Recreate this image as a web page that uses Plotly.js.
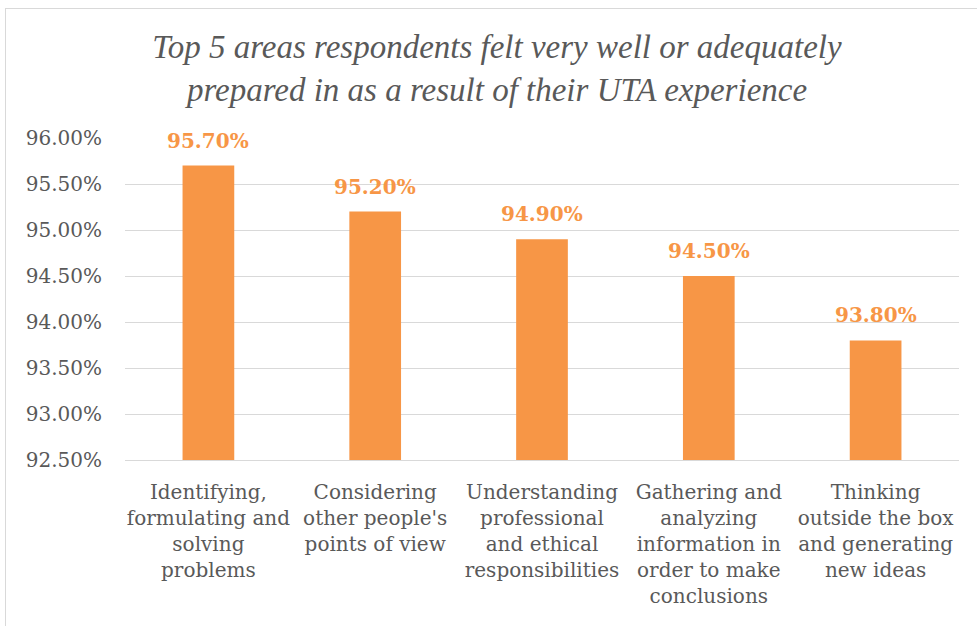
<!DOCTYPE html>
<html><head><meta charset="utf-8">
<script src="https://cdn.plot.ly/plotly-3.0.1.min.js"></script>
<style>
html,body{margin:0;padding:0;background:#fff;}
#frame{position:absolute;left:5px;top:8px;width:980px;height:630px;border:1px solid #d9d9d9;box-sizing:border-box;}
#chart{position:absolute;left:0;top:0;width:977px;height:626px;}
</style></head>
<body>
<div id="frame"></div>
<div id="chart"></div>
<script>
const categories = [
  "Identifying,<br>formulating and<br>solving<br>problems",
  "Considering<br>other people's<br>points of view",
  "Understanding<br>professional<br>and ethical<br>responsibilities",
  "Gathering and<br>analyzing<br>information in<br>order to make<br>conclusions",
  "Thinking<br>outside the box<br>and generating<br>new ideas"
];
const values = [95.7, 95.2, 94.9, 94.5, 93.8];
const valueLabels = ["95.70%", "95.20%", "94.90%", "94.50%", "93.80%"];
const yTicks = [92.5, 93.0, 93.5, 94.0, 94.5, 95.0, 95.5, 96.0];

const orange = "#F79646";
const grey = "#595959";

const trace = {
  type: "bar",
  x: categories,
  y: values,
  marker: {color: orange},
  hoverinfo: "none"
};

const annotations = categories.map((c, i) => ({
  x: c, y: values[i], xref: "x", yref: "y",
  text: valueLabels[i], showarrow: false,
  yanchor: "bottom", yshift: 11,
  font: {family: "DejaVu Serif", size: 20, color: orange, weight: "bold"}
}));

const layout = {
  width: 977, height: 626,
  paper_bgcolor: "rgba(0,0,0,0)", plot_bgcolor: "rgba(0,0,0,0)",
  margin: {l: 125, r: 18, t: 138, b: 166},
  bargap: 0.69,
  showlegend: false,
  title: {
    text: "Top 5 areas respondents felt very well or adequately<br>prepared in as a result of their UTA experience",
    font: {family: "Liberation Serif", size: 33, color: grey, style: "italic"},
    x: 0.5087, xanchor: "center", xref: "container", yref: "container", y: 0.907, yanchor: "middle"
  },
  xaxis: {
    type: "category",
    showgrid: false, showline: true, linecolor: "#d9d9d9", linewidth: 1,
    ticks: "", tickfont: {family: "DejaVu Serif", size: 20, color: grey},
    tickangle: 0, automargin: false, ticklabelstandoff: 14
  },
  yaxis: {
    range: [92.5, 96.0], tickvals: yTicks,
    ticktext: yTicks.map(v => v.toFixed(2) + "%"),
    showgrid: true, gridcolor: "#d9d9d9", gridwidth: 1,
    zeroline: false, showline: false, ticks: "",
    tickfont: {family: "DejaVu Serif", size: 20, color: grey},
    automargin: false, ticklabelstandoff: 22
  },
  annotations: annotations
};

Plotly.newPlot("chart", [trace], layout, {displayModeBar: false, staticPlot: true});
</script>
</body></html>
